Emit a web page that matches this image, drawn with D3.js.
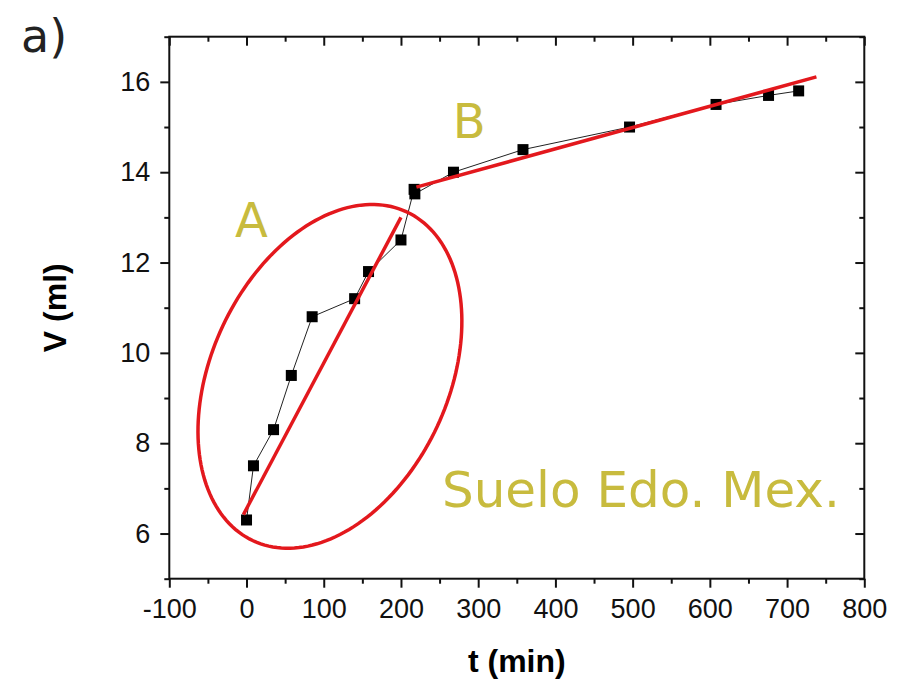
<!DOCTYPE html>
<html>
<head>
  <meta charset="utf-8">
  <title>V vs t</title>
  <script src="https://cdnjs.cloudflare.com/ajax/libs/d3/7.8.5/d3.min.js"></script>
  <style>
    html, body { margin: 0; padding: 0; background: #fff; }
    svg { display: block; }
    .tick text { font-family: "Liberation Sans", Arial, sans-serif; font-size: 27px; fill: #111; }
  </style>
</head>
<body>
<svg id="chart" width="913" height="681"></svg>
<script>
  // measured data (t in min, V in ml)
  const tMin = [0, 9, 35, 58, 85, 140, 158, 200, 217, 218, 268, 358, 496, 608, 676, 715]
  const vMl = [6.3, 7.5, 8.3, 9.5, 10.8, 11.2, 11.8, 12.5, 13.62, 13.52, 14.0, 14.5, 15.0, 15.5, 15.7, 15.8]

  // linear fits for the two stages
  const fitAT = [-4, 200]
  const fitAV = [6.42, 13.0]
  const fitBT = [220, 738]
  const fitBV = [13.67, 16.11]

  // ellipse round stage A: centre and two conjugate half-axes (data units)
  const ellCentre = [108, 9.48]
  const ellU = [99.5, 3.64]
  const ellV = [138.9, -1.11]

  const xTicks = [-100, 0, 100, 200, 300, 400, 500, 600, 700, 800]
  const xTickLabels = ['-100', '0', '100', '200', '300', '400', '500', '600', '700', '800']
  const xMinor = [-50, 50, 150, 250, 350, 450, 550, 650, 750]
  const yTicks = [6, 8, 10, 12, 14, 16]
  const yTickLabels = ['6', '8', '10', '12', '14', '16']
  const yMinor = [5, 7, 9, 11, 13, 15, 17]

  const labels = [
    { text: 'A', t: -15, v: 12.57, size: 48 },
    { text: 'B', t: 267, v: 14.75, size: 48 },
    { text: 'Suelo Edo. Mex.', t: 253, v: 6.58, size: 50 }
  ]

  const red = '#e3181d'
  const olive = '#c8bb3e'

  const pLeft = 169.3, pRight = 864.3, pTop = 36.7, pBottom = 578.7
  const svg = d3.select('#chart')

  const x = d3.scaleLinear().domain([-100, 800]).range([pLeft, pRight])
  const y = d3.scaleLinear().domain([5, 17]).range([pBottom, pTop])

  const major = 9, minor = 5

  const axisLayer = (axis, tr) => {
    const g = svg.append('g').attr('transform', tr).call(axis)
    g.select('.domain').remove()
    g.selectAll('line').attr('stroke', '#111').attr('stroke-width', 2)
    return g
  }

  // bottom
  axisLayer(d3.axisBottom(x).tickValues(xTicks).tickSize(major).tickPadding(11)
    .tickFormat((d, i) => xTickLabels[i]), `translate(0,${pBottom})`)
  axisLayer(d3.axisBottom(x).tickValues(xMinor).tickSize(minor).tickFormat(''), `translate(0,${pBottom})`)
  // top (inward)
  axisLayer(d3.axisBottom(x).tickValues(xTicks).tickSize(major).tickFormat(''), `translate(0,${pTop})`)
  axisLayer(d3.axisBottom(x).tickValues(xMinor).tickSize(minor).tickFormat(''), `translate(0,${pTop})`)
  // left
  axisLayer(d3.axisLeft(y).tickValues(yTicks).tickSize(major).tickPadding(10)
    .tickFormat((d, i) => yTickLabels[i]), `translate(${pLeft},0)`)
  axisLayer(d3.axisLeft(y).tickValues(yMinor).tickSize(minor).tickFormat(''), `translate(${pLeft},0)`)
  // right (inward)
  axisLayer(d3.axisLeft(y).tickValues(yTicks).tickSize(major).tickFormat(''), `translate(${pRight},0)`)
  axisLayer(d3.axisLeft(y).tickValues(yMinor).tickSize(minor).tickFormat(''), `translate(${pRight},0)`)

  svg.append('rect')
    .attr('x', pLeft).attr('y', pTop)
    .attr('width', pRight - pLeft).attr('height', pBottom - pTop)
    .attr('fill', 'none').attr('stroke', '#111').attr('stroke-width', 2)

  // axis titles
  svg.append('text')
    .attr('x', (pLeft + pRight) / 2).attr('y', 672)
    .attr('text-anchor', 'middle')
    .style('font-family', '"Liberation Sans", Arial, sans-serif')
    .style('font-weight', 'bold').style('font-size', '32px')
    .text('t (min)')

  svg.append('text')
    .attr('transform', `translate(66,${(pTop + pBottom) / 2}) rotate(-90)`)
    .attr('text-anchor', 'middle')
    .style('font-family', '"Liberation Sans", Arial, sans-serif')
    .style('font-weight', 'bold').style('font-size', '32px')
    .text('V (ml)')

  svg.append('text')
    .attr('x', 21).attr('y', 52)
    .style('font-family', '"DejaVu Sans", sans-serif')
    .style('font-size', '46px').attr('fill', '#222')
    .text('a)')

  // connecting line + markers
  const pts = tMin.map((t, i) => [t, vMl[i]])
  const line = d3.line().x(d => x(d[0])).y(d => y(d[1]))

  svg.append('path').datum(pts)
    .attr('d', line)
    .attr('fill', 'none').attr('stroke', '#222').attr('stroke-width', 1)

  const ms = 11
  svg.append('g').selectAll('rect').data(pts).join('rect')
    .attr('x', d => x(d[0]) - ms / 2).attr('y', d => y(d[1]) - ms / 2)
    .attr('width', ms).attr('height', ms).attr('fill', '#000')

  // fit lines
  const fits = [fitAT.map((t, i) => [t, fitAV[i]]), fitBT.map((t, i) => [t, fitBV[i]])]
  svg.append('g').selectAll('path').data(fits).join('path')
    .attr('d', line)
    .attr('fill', 'none').attr('stroke', red).attr('stroke-width', 3.5)

  // ellipse
  const ellPts = d3.range(0, 2 * Math.PI, Math.PI / 90).map(a => [
    ellCentre[0] + ellU[0] * Math.cos(a) + ellV[0] * Math.sin(a),
    ellCentre[1] + ellU[1] * Math.cos(a) + ellV[1] * Math.sin(a)
  ])
  svg.append('path').datum(ellPts)
    .attr('d', d3.line().x(d => x(d[0])).y(d => y(d[1])).curve(d3.curveLinearClosed))
    .attr('fill', 'none').attr('stroke', red).attr('stroke-width', 3.5)

  // annotations
  svg.append('g').selectAll('text').data(labels).join('text')
    .attr('x', d => x(d.t)).attr('y', d => y(d.v))
    .style('font-family', '"DejaVu Sans", sans-serif')
    .style('font-size', d => d.size + 'px')
    .attr('fill', olive)
    .text(d => d.text)
</script>
</body>
</html>
